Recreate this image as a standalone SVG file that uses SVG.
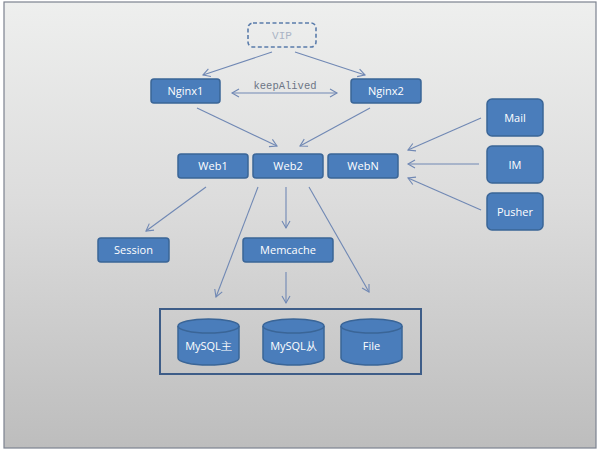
<svg xmlns="http://www.w3.org/2000/svg" width="600" height="452" viewBox="0 0 600 452">
<defs>
<linearGradient id="bg" x1="0" y1="0" x2="0" y2="1">
<stop offset="0" stop-color="#eeefee"/>
<stop offset="0.45" stop-color="#dcdcdc"/>
<stop offset="1" stop-color="#bdbdbd"/>
</linearGradient>
<marker id="ah" markerWidth="10" markerHeight="10" refX="8" refY="5" orient="auto" markerUnits="userSpaceOnUse">
<path d="M1,1 L8,5 L1,9" fill="none" stroke="#7088b4" stroke-width="1.1"/>
</marker>
<marker id="ahs" markerWidth="10" markerHeight="10" refX="2" refY="5" orient="auto" markerUnits="userSpaceOnUse">
<path d="M9,1 L2,5 L9,9" fill="none" stroke="#7088b4" stroke-width="1.1"/>
</marker>
</defs>
<style>
.n{fill:#4a7dbb;stroke:#3a6597;stroke-width:1.5}
.t{font-family:"Open Sans","Liberation Sans",sans-serif;font-size:11px;fill:#ffffff;text-anchor:middle}
.c line{stroke:#7088b4;stroke-width:1.1;marker-end:url(#ah)}
.cyl{fill:#4a7dbb;stroke:#3a6597;stroke-width:1.5}
</style>
<rect x="0" y="0" width="600" height="452" fill="#ffffff"/>
<rect x="4" y="2" width="592" height="446" fill="url(#bg)" stroke="#7c828f" stroke-width="1.2"/>

<g class="c" id="connectors">
<line x1="272" y1="52" x2="203" y2="75"/>
<line x1="295" y1="52" x2="365" y2="75"/>
<line x1="232" y1="93" x2="337" y2="93" marker-start="url(#ahs)"/>
<line x1="197" y1="108" x2="277" y2="146"/>
<line x1="370" y1="108" x2="300" y2="146"/>
<line x1="481" y1="118" x2="408" y2="150"/>
<line x1="479" y1="164" x2="408" y2="164"/>
<line x1="481" y1="210" x2="408" y2="178"/>
<line x1="206" y1="187" x2="146" y2="231"/>
<line x1="286" y1="187" x2="286" y2="228"/>
<line x1="258" y1="187" x2="216" y2="297"/>
<line x1="309" y1="187" x2="369" y2="292"/>
<line x1="286" y1="272" x2="286" y2="303"/>
</g>

<g id="vip">
<rect x="248" y="23" width="68" height="24" rx="5" fill="none" stroke="#5a7cab" stroke-width="1.6" stroke-dasharray="4,2.5"/>
<text x="282" y="39" font-family="'Liberation Mono',monospace" font-size="11" fill="#aab4c6" text-anchor="middle">VIP</text>
</g>
<g id="keepalived">
<text x="285" y="89" font-family="'Liberation Mono',monospace" font-size="10.5" fill="#6c7585" text-anchor="middle">keepAlived</text>
</g>
<g id="nginx1"><rect class="n" x="151" y="79" width="69" height="24" rx="3"/><text class="t" x="185.5" y="95">Nginx1</text></g>
<g id="nginx2"><rect class="n" x="351" y="79" width="70" height="24" rx="3"/><text class="t" x="386" y="95">Nginx2</text></g>
<g id="web1"><rect class="n" x="178" y="154" width="70" height="24" rx="3"/><text class="t" x="213" y="170">Web1</text></g>
<g id="web2"><rect class="n" x="253" y="154" width="70" height="24" rx="3"/><text class="t" x="288" y="170">Web2</text></g>
<g id="webn"><rect class="n" x="328" y="154" width="70" height="24" rx="3"/><text class="t" x="363" y="170">WebN</text></g>
<g id="mail"><rect class="n" x="487" y="99" width="56" height="37" rx="5"/><text class="t" x="515" y="121.5">Mail</text></g>
<g id="im"><rect class="n" x="487" y="146" width="56" height="37" rx="5"/><text class="t" x="515" y="168.5">IM</text></g>
<g id="pusher"><rect class="n" x="487" y="193" width="56" height="37" rx="5"/><text class="t" x="515" y="215.5">Pusher</text></g>
<g id="session"><rect class="n" x="98" y="238" width="71" height="24" rx="3"/><text class="t" x="133.5" y="254">Session</text></g>
<g id="memcache"><rect class="n" x="243" y="238" width="90" height="24" rx="3"/><text class="t" x="288" y="254">Memcache</text></g>

<g id="storage">
<rect x="160" y="309" width="261" height="65" fill="none" stroke="#3e5d88" stroke-width="2"/>
</g>
<g id="mysql-master">
<path class="cyl" d="M178,326 L178,358 A30.5,7 0 0 0 239,358 L239,326"/>
<ellipse class="cyl" cx="208.5" cy="326" rx="30.5" ry="7"/>
<text class="t" x="208.5" y="350" font-family="'Open Sans','Liberation Sans','Noto Sans CJK SC',sans-serif">MySQL主</text>
</g>
<g id="mysql-slave">
<path class="cyl" d="M263,326 L263,358 A30.5,7 0 0 0 324,358 L324,326"/>
<ellipse class="cyl" cx="293.5" cy="326" rx="30.5" ry="7"/>
<text class="t" x="293.5" y="350" font-family="'Open Sans','Liberation Sans','Noto Sans CJK SC',sans-serif">MySQL从</text>
</g>
<g id="file">
<path class="cyl" d="M341,326 L341,358 A30.5,7 0 0 0 402,358 L402,326"/>
<ellipse class="cyl" cx="371.5" cy="326" rx="30.5" ry="7"/>
<text class="t" x="371.5" y="350">File</text>
</g>
</svg>
